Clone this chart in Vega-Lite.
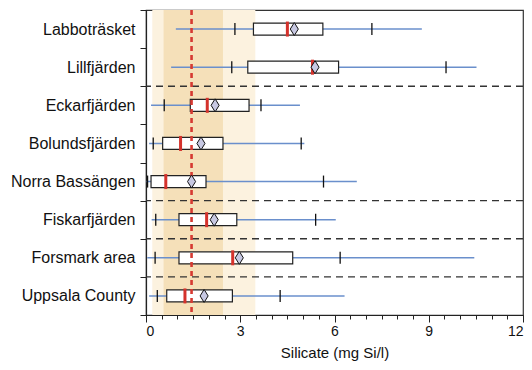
{
  "$schema": "https://vega.github.io/schema/vega-lite/v6.json",
  "width": 377,
  "height": 305,
  "autosize": {"type": "none"},
  "padding": {"left": 146, "top": 10, "right": 9, "bottom": 55},
  "background": "white",
  "config": {
    "view": {"stroke": "#333", "strokeWidth": 1.2},
    "font": "Liberation Sans",
    "axis": {"labelFont": "Liberation Sans", "titleFont": "Liberation Sans", "domainColor": "#222", "tickColor": "#222", "labelColor": "#111", "titleColor": "#111", "grid": false}
  },
  "datasets": {
    "stats": [
      {"site": "Labboträsket", "lo": 0.95, "p10": 2.83, "q1": 3.42, "med": 4.5, "mean": 4.72, "q3": 5.63, "p90": 7.19, "hi": 8.78, "sep": false},
      {"site": "Lillfjärden", "lo": 0.8, "p10": 2.73, "q1": 3.24, "med": 5.3, "mean": 5.38, "q3": 6.13, "p90": 9.55, "hi": 10.52, "sep": false},
      {"site": "Eckarfjärden", "lo": 0.16, "p10": 0.58, "q1": 1.41, "med": 1.95, "mean": 2.2, "q3": 3.28, "p90": 3.66, "hi": 4.9, "sep": true},
      {"site": "Bolundsfjärden", "lo": 0.1, "p10": 0.23, "q1": 0.53, "med": 1.1, "mean": 1.75, "q3": 2.45, "p90": 4.94, "hi": 5.04, "sep": false},
      {"site": "Norra Bassängen", "lo": 0.02, "p10": 0.05, "q1": 0.16, "med": 0.63, "mean": 1.45, "q3": 1.91, "p90": 5.65, "hi": 6.71, "sep": false},
      {"site": "Fiskarfjärden", "lo": 0.18, "p10": 0.31, "q1": 1.05, "med": 1.93, "mean": 2.17, "q3": 2.89, "p90": 5.4, "hi": 6.04, "sep": true},
      {"site": "Forsmark area", "lo": 0.04, "p10": 0.29, "q1": 1.05, "med": 2.76, "mean": 2.97, "q3": 4.67, "p90": 6.18, "hi": 10.45, "sep": true},
      {"site": "Uppsala County", "lo": 0.1, "p10": 0.36, "q1": 0.66, "med": 1.24, "mean": 1.85, "q3": 2.75, "p90": 4.27, "hi": 6.32, "sep": true}
    ],
    "bands": [
      {"start": 0.2, "end": 3.48, "level": "outer"},
      {"start": 0.56, "end": 2.45, "level": "inner"}
    ],
    "ref": [{"value": 1.45}]
  },
  "layer": [
    {
      "data": {"name": "bands"},
      "mark": {"type": "rect"},
      "encoding": {
        "x": {
          "field": "start", "type": "quantitative", "title": "Silicate (mg Si/l)",
          "scale": {"domain": [0, 12], "nice": false},
          "axis": {
            "values": [0, 0.5, 1, 1.5, 2, 2.5, 3, 3.5, 4, 4.5, 5, 5.5, 6, 6.5, 7, 7.5, 8, 8.5, 9, 9.5, 10, 10.5, 11, 11.5, 12],
            "tickCount": 25,
            "labelExpr": "(datum.value == 0 || datum.value == 3 || datum.value == 6 || datum.value == 9 || datum.value == 12) ? format(datum.value, 'd') : ''",
            "labelOverlap": false,
            "tickSize": {"condition": {"test": "datum.value == 0 || datum.value == 3 || datum.value == 6 || datum.value == 9 || datum.value == 12", "value": 7}, "value": 4},
            "labelFontSize": 14, "titleFontSize": 15, "titleFontWeight": "normal", "labelPadding": 2, "titlePadding": 7, "domainWidth": 1.2
          }
        },
        "x2": {"field": "end"},
        "color": {"field": "level", "type": "nominal", "scale": {"domain": ["outer", "inner"], "range": ["#fcf2df", "#f5e0b9"]}, "legend": null}
      }
    },
    {
      "data": {"name": "stats"},
      "transform": [{"filter": "datum.sep"}],
      "mark": {"type": "rule", "strokeDash": [7, 5], "strokeWidth": 1.3, "color": "#333"},
      "encoding": {
        "y": {
          "field": "site", "type": "nominal", "bandPosition": 0, "title": null,
          "scale": {"domain": ["Labboträsket", "Lillfjärden", "Eckarfjärden", "Bolundsfjärden", "Norra Bassängen", "Fiskarfjärden", "Forsmark area", "Uppsala County"], "paddingInner": 0, "paddingOuter": 0},
          "axis": {"tickBand": "extent", "tickSize": 6, "labelPadding": 5, "labelFontSize": 16, "domainWidth": 1.2}
        }
      }
    },
    {
      "data": {"name": "stats"},
      "mark": {"type": "rule", "color": "#6a8fcc", "strokeWidth": 1.6},
      "encoding": {
        "y": {"field": "site", "type": "nominal"},
        "x": {"field": "lo", "type": "quantitative"},
        "x2": {"field": "hi"}
      }
    },
    {
      "data": {"name": "stats"},
      "mark": {"type": "tick", "color": "#111", "thickness": 1.3, "size": 12, "opacity": 1},
      "encoding": {
        "y": {"field": "site", "type": "nominal"},
        "x": {"field": "p10", "type": "quantitative"}
      }
    },
    {
      "data": {"name": "stats"},
      "mark": {"type": "tick", "color": "#111", "thickness": 1.3, "size": 12, "opacity": 1},
      "encoding": {
        "y": {"field": "site", "type": "nominal"},
        "x": {"field": "p90", "type": "quantitative"}
      }
    },
    {
      "data": {"name": "stats"},
      "mark": {"type": "bar", "fill": "white", "stroke": "#222", "strokeWidth": 1.2, "height": 12},
      "encoding": {
        "y": {"field": "site", "type": "nominal"},
        "x": {"field": "q1", "type": "quantitative"},
        "x2": {"field": "q3"}
      }
    },
    {
      "data": {"name": "ref"},
      "mark": {"type": "rule", "color": "#d63a32", "strokeWidth": 2.6, "strokeDash": [5, 4]},
      "encoding": {
        "x": {"field": "value", "type": "quantitative"}
      }
    },
    {
      "data": {"name": "stats"},
      "mark": {"type": "tick", "color": "#d4322c", "thickness": 3, "size": 15, "opacity": 1},
      "encoding": {
        "y": {"field": "site", "type": "nominal"},
        "x": {"field": "med", "type": "quantitative"}
      }
    },
    {
      "data": {"name": "stats"},
      "mark": {"type": "point", "shape": "M0,-1L0.62,0L0,1L-0.62,0Z", "size": 169, "filled": true, "fill": "#c7c8e2", "stroke": "#111", "strokeWidth": 1, "opacity": 1},
      "encoding": {
        "y": {"field": "site", "type": "nominal"},
        "x": {"field": "mean", "type": "quantitative"}
      }
    }
  ]
}
